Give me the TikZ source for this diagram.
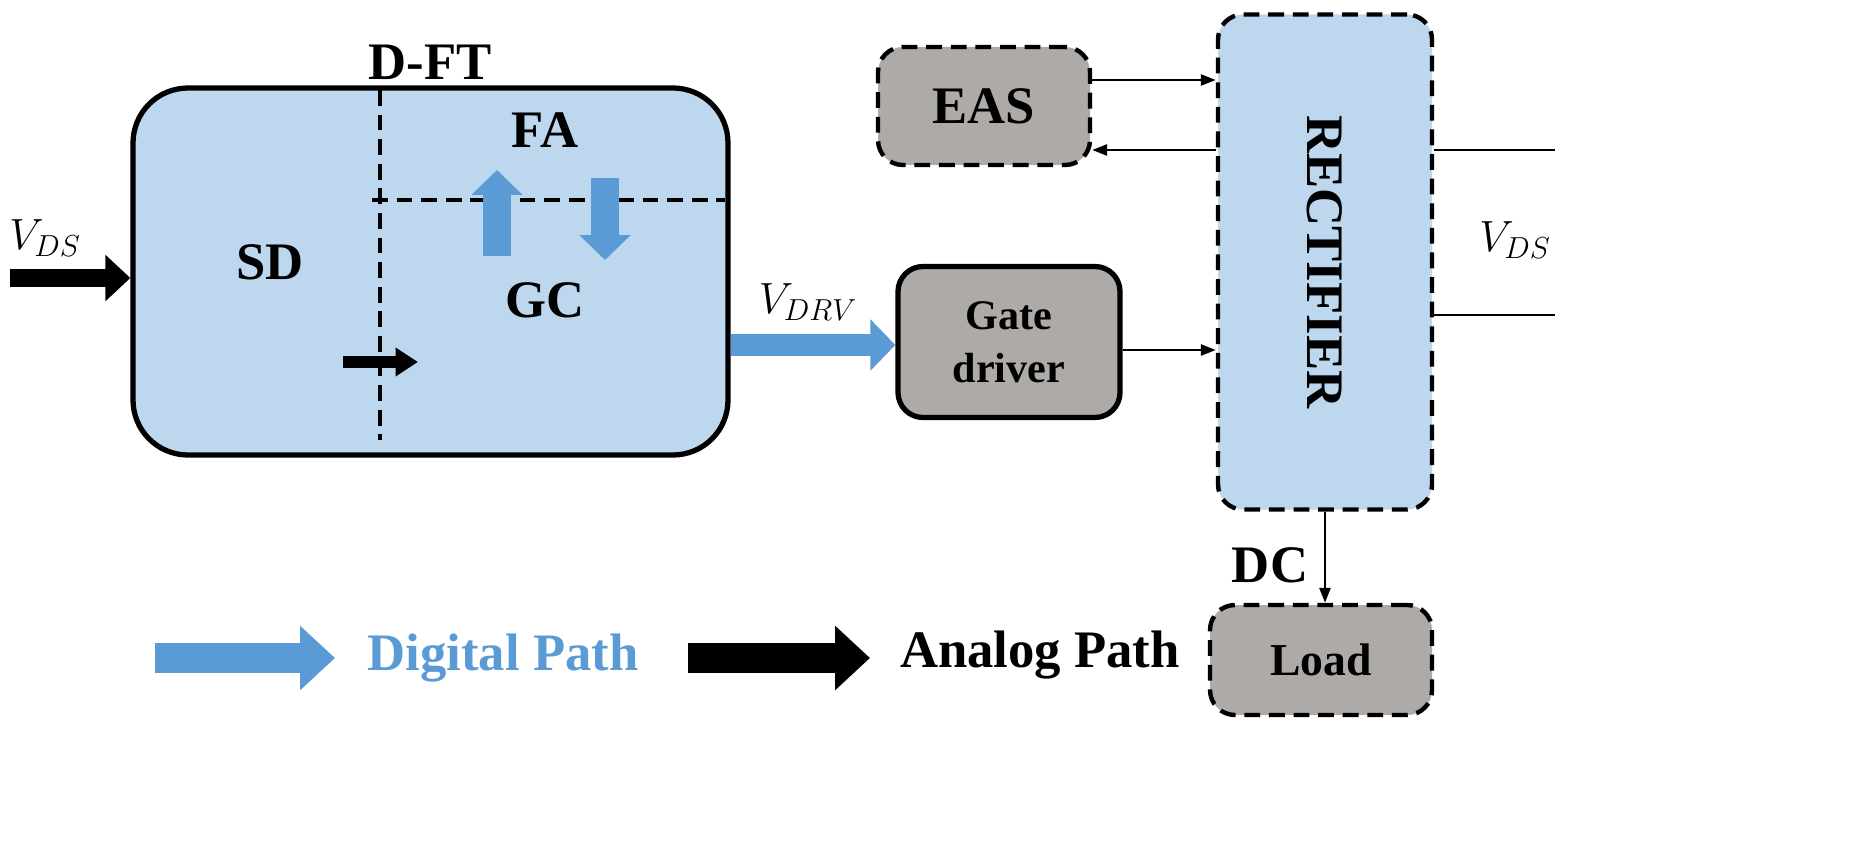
\documentclass[tikz,border=0pt]{standalone}
\usepackage{fontspec}
\setmainfont{Liberation Serif}
\usetikzlibrary{arrows.meta}
\definecolor{lb}{HTML}{BDD7EE}
\definecolor{gb}{HTML}{ADAAA7}
\definecolor{ab}{HTML}{5B9BD5}
\begin{document}
\begin{tikzpicture}[x=0.02cm,y=-0.02cm,
  lbl/.style={font=\fontsize{24}{28}\selectfont\bfseries},
  big/.style={font=\fontsize{30}{34}\selectfont\bfseries},
  fat/.style n args={3}{line width=#1cm,-{Triangle[length=#3cm,width=#2cm]}},
  dsh/.style={dash pattern=on 9pt off 5pt},
  conn/.style={-{Triangle[length=0.3cm,width=0.22cm]},line width=1.5pt},
  dbox/.style={draw,line width=2.5pt,dsh,rounded corners=0.5cm,fill=gb}]
\useasboundingbox (0,0) rectangle (1855,868);
\node[draw,line width=3pt,fill=lb,rounded corners=1.1cm,minimum width=595*0.02cm,minimum height=367*0.02cm] (main) at (430.5,271.5) {};
\node[big] (dft) at (430,62) {D-FT};
\draw[dsh,line width=2pt] (380,90) coordinate (v1) -- (380,440) coordinate (v2);
\draw[dsh,line width=2pt] (372,200) coordinate (h1) -- (725,200) coordinate (h2);
\node[big] (fa) at (545,130) {FA};
\node[big] (gc) at (545,300) {GC};
\node[big] (sd) at (270,262) {SD};
\coordinate (u1) at (497,256); \coordinate (u2) at (497,170);
\coordinate (d1) at (605,178); \coordinate (d2) at (605,260);
\draw[ab,fat={0.55}{1.0}{0.5}] (u1) -- (u2);
\draw[ab,fat={0.55}{1.0}{0.5}] (d1) -- (d2);
\coordinate (s1) at (343,362); \coordinate (s2) at (418,362);
\draw[fat={0.25}{0.55}{0.45}] (s1) -- (s2);
\coordinate (i1) at (10,278);
\draw[fat={0.36}{0.9}{0.5}] (i1) -- (main.west|-i1);
\node[font=\fontsize{24}{28}\selectfont] (vds1) at (45,238) {$V_{DS}$};
\node[draw,line width=3pt,fill=gb,rounded corners=0.5cm,minimum width=222*0.02cm,minimum height=151*0.02cm,align=center,font=\fontsize{24}{30}\selectfont\bfseries] (gd) at (1009,342) {Gate\\driver};
\draw[ab,fat={0.45}{1.0}{0.5}] (main.east|-0,345) -- (gd.west|-0,345);
\node[font=\fontsize{24}{28}\selectfont] (vdrvl) at (808,302) {$V_{DRV}$};
\node[dbox,minimum width=212*0.02cm,minimum height=118*0.02cm,big] (eas) at (984,106) {EAS};
\node[dbox,fill=lb,minimum width=214*0.02cm,minimum height=495*0.02cm] (rect) at (1325,262) {};
\node[big,rotate=-90] at (rect.center) {RECTIFIER};
\node[dbox,minimum width=222*0.02cm,minimum height=110*0.02cm,font=\fontsize{26}{30}\selectfont\bfseries] (load) at (1321,660) {Load};
\draw[conn] (eas.east|-0,80) -- (rect.west|-0,80);
\draw[conn] (rect.west|-0,150) -- (eas.east|-0,150);
\draw[conn] (gd.east|-0,350) -- (rect.west|-0,350);
\draw[line width=1.5pt] (rect.east|-0,150) -- (1555,150) coordinate (o1);
\draw[line width=1.5pt] (rect.east|-0,315) -- (1555,315) coordinate (o2);
\node[font=\fontsize{24}{28}\selectfont] (vds2) at (1515,240) {$V_{DS}$};
\draw[conn] (rect.south-|1325,0) -- (load.north-|1325,0);
\node[big] (dc) at (1270,565) {DC};
\coordinate (g1) at (155,658); \coordinate (g2) at (335,658);
\draw[ab,fat={0.6}{1.25}{0.7}] (g1) -- (g2);
\node[big,text=ab] (digl) at (503,658) {Digital Path};
\coordinate (a1) at (688,658); \coordinate (a2) at (870,658);
\draw[fat={0.6}{1.25}{0.7}] (a1) -- (a2);
\node[big] (anal) at (1040,655) {Analog Path};
\end{tikzpicture}
\end{document}
